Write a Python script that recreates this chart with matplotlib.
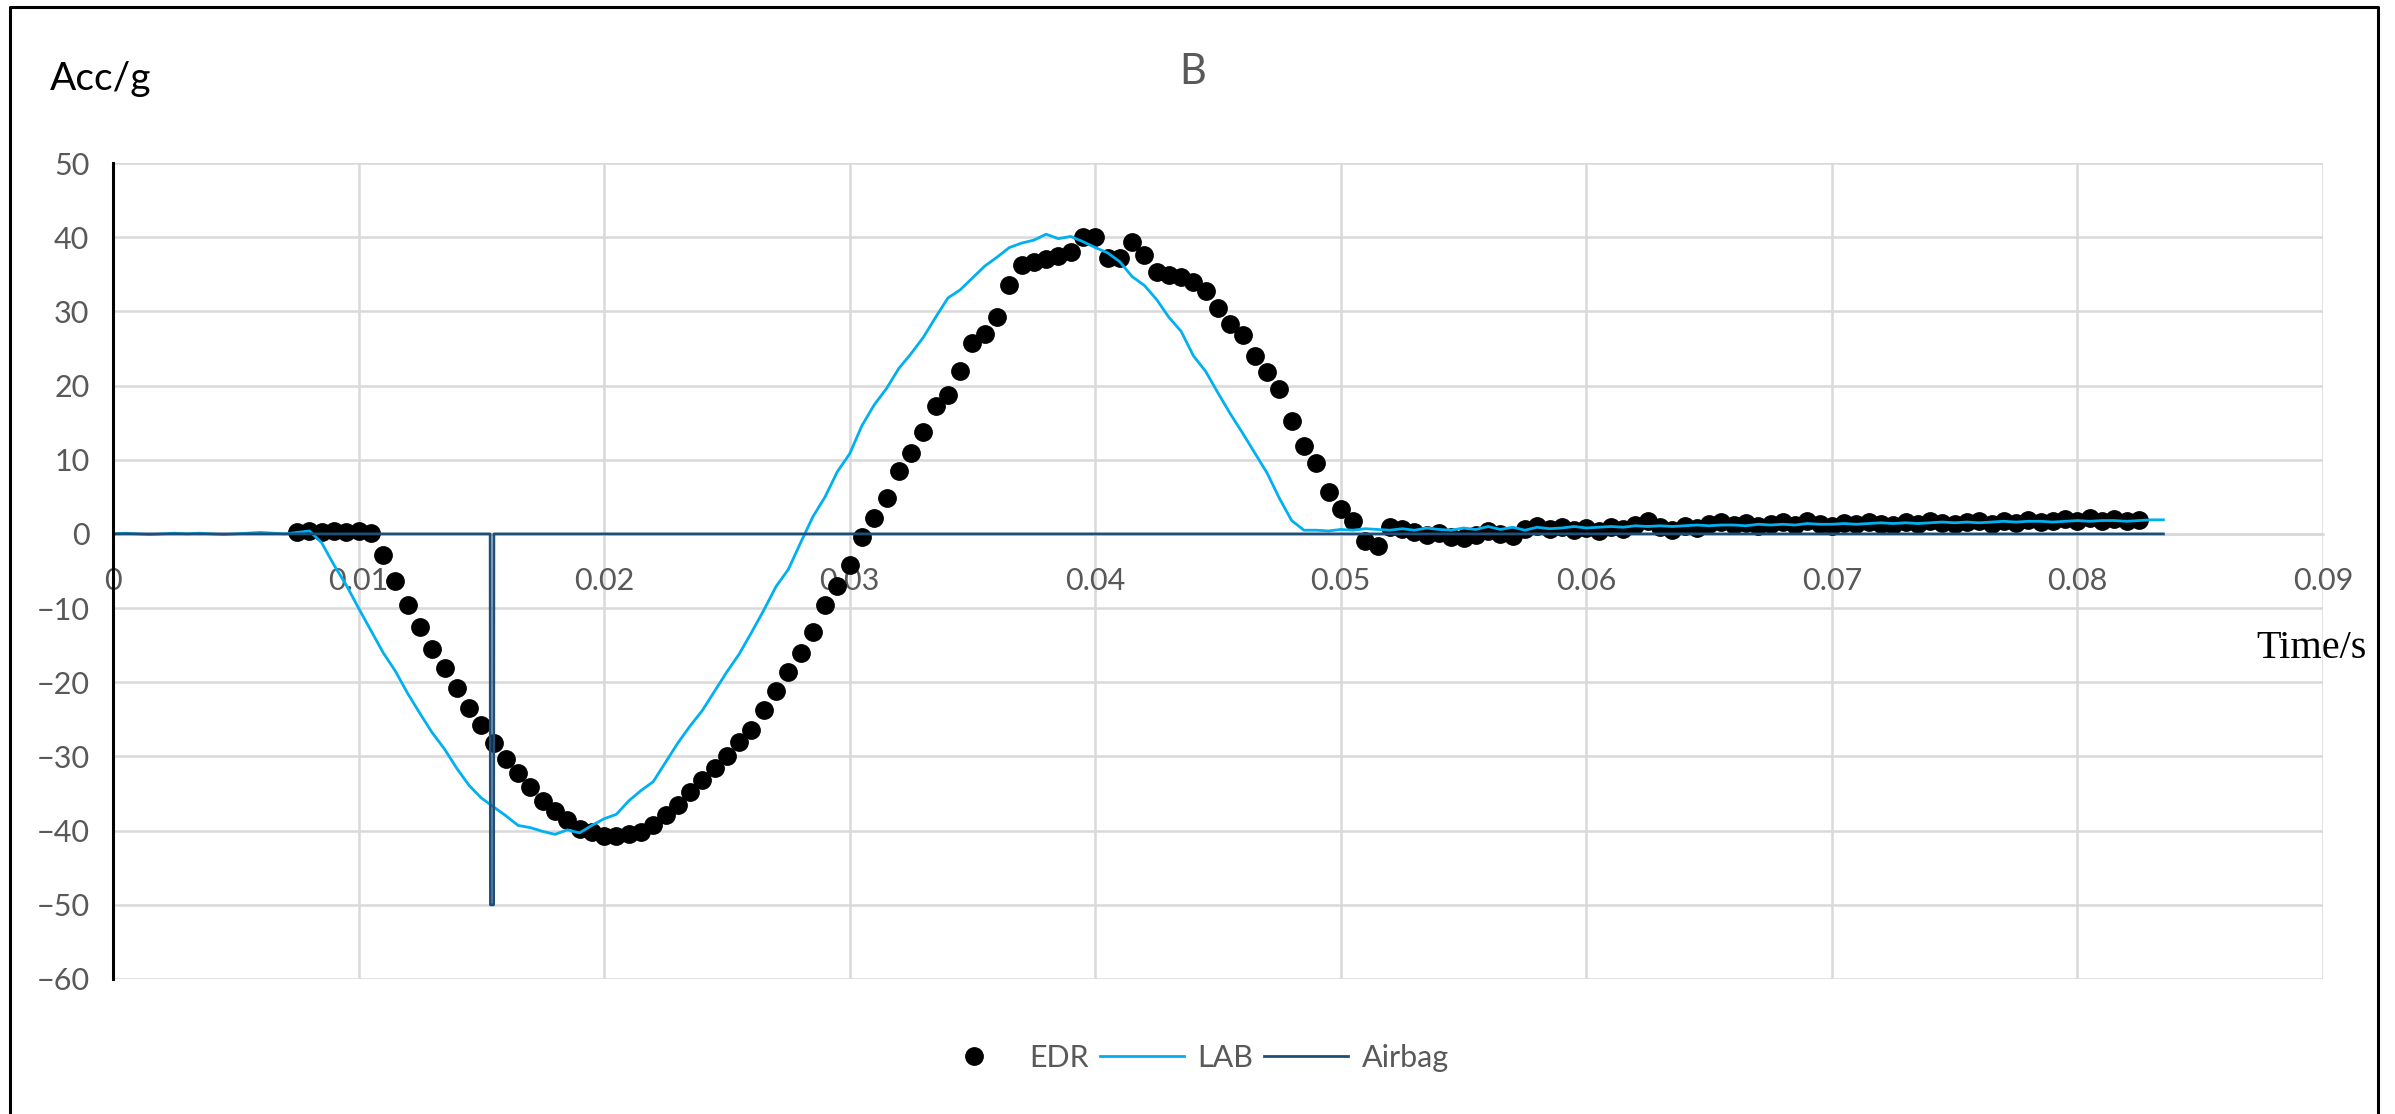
import numpy as np
import matplotlib
matplotlib.use("Agg")
import matplotlib.pyplot as plt
from matplotlib.lines import Line2D

# EDR samples every 0.5 ms starting at 7.5 ms
EDR_T0 = 0.0075
EDR_DT = 0.0005
edr_acc = [
    0.3, 0.4, 0.3, 0.4, 0.3, 0.4, 0.1,
    -2.9, -6.3, -9.6, -12.6, -15.5, -18.1, -20.8, -23.5, -25.8, -28.2,
    -30.3, -32.2, -34.1, -36.0, -37.4, -38.6, -39.8, -40.2, -40.7, -40.7,
    -40.5, -40.2, -39.3, -37.9, -36.5, -34.8, -33.2, -31.5, -29.9, -28.0,
    -26.4, -23.8, -21.2, -18.6, -16.0, -13.2, -9.6, -7.0, -4.2, -0.4,
    2.2, 4.9, 8.5, 10.9, 13.8, 17.2, 18.7, 21.9, 25.7, 27.0,
    29.3, 33.5, 36.2, 36.6, 37.0, 37.4, 38.0, 40.0, 40.0, 37.2,
    37.2, 39.4, 37.6, 35.3, 34.9, 34.6, 33.9, 32.8, 30.5, 28.3,
    26.8, 24.0, 21.8, 19.5, 15.2, 11.8, 9.5, 5.7, 3.4, 1.8,
    -0.9, -1.6, 0.9,
    0.6, 0.3, -0.2, 0.1, -0.4, -0.6, -0.2, 0.4, 0.0, -0.3,
    0.6, 1.0, 0.7, 0.9, 0.5, 0.8, 0.4, 0.9, 0.7, 1.2,
    1.7, 0.9, 0.5, 1.1, 0.8, 1.4, 1.6, 1.2, 1.5, 1.0,
    1.3, 1.6, 1.2, 1.7, 1.4, 1.1, 1.5, 1.3, 1.6, 1.4,
    1.2, 1.6, 1.3, 1.7, 1.5, 1.3, 1.6, 1.8, 1.4, 1.7,
    1.5, 1.9, 1.6, 1.8, 2.0, 1.7, 2.1, 1.8, 2.0, 1.7,
    1.9,
]

# LAB sensor, 0.5 ms steps from 0
LAB_DT = 0.0005
lab_acc = [
    0.0, 0.1, 0.0, -0.1, 0.0, 0.1, 0.0, 0.1, 0.0, -0.1,
    0.0, 0.1, 0.2, 0.1, 0.0, 0.2, 0.4, -1.2, -4.2, -6.9,
    -10.0, -13.0, -16.0, -18.5, -21.5, -24.2, -26.8, -29.0, -31.6, -33.9,
    -35.6, -36.8, -38.0, -39.3, -39.6, -40.1, -40.5, -39.9, -40.3, -39.3,
    -38.4, -37.8, -36.0, -34.6, -33.4, -30.8, -28.2, -25.9, -23.8, -21.2,
    -18.6, -16.2, -13.3, -10.3, -7.1, -4.8, -1.2, 2.3, 5.0, 8.4,
    10.8, 14.6, 17.4, 19.6, 22.3, 24.3, 26.5, 29.2, 31.8, 32.9,
    34.5, 36.1, 37.3, 38.6, 39.2, 39.6, 40.4, 39.8, 40.1, 39.4,
    38.6, 37.9, 36.7, 34.7, 33.5, 31.6, 29.2, 27.3, 24.0, 21.9,
    19.0, 16.2, 13.6, 10.9, 8.2, 4.8, 1.8, 0.5, 0.5, 0.4,
    0.6, 0.5, 0.7, 0.6, 0.5, 0.7, 0.5, 0.8, 0.6, 0.5,
    0.8, 0.6, 1.0, 0.6, 0.9, 0.5, 0.9, 0.7, 0.8, 1.0,
    0.8, 0.9, 1.0, 0.9, 1.1, 1.0, 1.1, 1.0, 1.1, 1.2,
    1.1, 1.2, 1.2, 1.1, 1.3, 1.2, 1.3, 1.2, 1.4, 1.3,
    1.3, 1.4, 1.3, 1.4, 1.5, 1.4, 1.5, 1.4, 1.5, 1.6,
    1.5, 1.6, 1.5, 1.6, 1.7, 1.6, 1.7, 1.7, 1.6, 1.7,
    1.8, 1.7, 1.8, 1.8, 1.7, 1.8, 1.9, 1.9,
]

# airbag trigger signal
airbag_t = [0.0, 0.01536, 0.01537, 0.0155, 0.01551, 0.0835]
airbag_acc = [0, 0, -50, -50, 0, 0]

x_ticks = [0, 0.01, 0.02, 0.03, 0.04, 0.05, 0.06, 0.07, 0.08, 0.09]
x_tick_labels = ["0", "0.01", "0.02", "0.03", "0.04", "0.05", "0.06", "0.07", "0.08", "0.09"]
y_ticks = [-60, -50, -40, -30, -20, -10, 0, 10, 20, 30, 40, 50]

edr_t = EDR_T0 + EDR_DT * np.arange(len(edr_acc))
lab_t = LAB_DT * np.arange(len(lab_acc))

plt.rcParams["font.family"] = ["Lato", "DejaVu Sans"]

W, H = 2395, 1114
fig = plt.figure(figsize=(W / 100, H / 100), dpi=100)
ax = fig.add_axes([113 / W, 1 - 979 / H, (2323 - 113) / W, (979 - 163) / H])

grey = "#595959"
grid_c = "#D9D9D9"

ax.plot(edr_t, edr_acc, "o", color="black", markersize=12.5, label="EDR", zorder=3)
ax.plot(lab_t, lab_acc, color="#00B0F0", lw=2.0, label="LAB", zorder=4)
ax.plot(airbag_t, airbag_acc, color="#1F4E79", lw=2.0, label="Airbag", zorder=5)

ax.set_xlim(0, 0.09)
ax.set_ylim(-60, 50)
ax.set_xticks(x_ticks)
ax.set_xticklabels(x_tick_labels)
ax.set_yticks(y_ticks)
ax.grid(True, color=grid_c, lw=1.8, zorder=0)
ax.set_axisbelow(True)

ax.spines["top"].set_visible(False)
ax.spines["right"].set_visible(False)
ax.spines["left"].set_color("black")
ax.spines["left"].set_linewidth(2.2)
ax.spines["left"].set_zorder(6)
ax.spines["bottom"].set_position(("data", 0))
ax.spines["bottom"].set_color(grid_c)
ax.spines["bottom"].set_linewidth(1.8)

ax.tick_params(axis="both", length=0, labelsize=22, labelcolor=grey)
ax.tick_params(axis="x", pad=24)
ax.tick_params(axis="y", pad=17)

fig.text(50 / W, 1 - 79 / H, "Acc/g", fontsize=28, color="black", ha="left", va="center")
fig.text(1193 / W, 1 - 72 / H, "B", fontsize=30, color=grey, ha="center", va="center")
fig.text(2367 / W, 1 - 648 / H, "Time/s", fontsize=29, color="black",
         family=["Liberation Serif", "DejaVu Serif"], ha="right", va="center")

leg = fig.legend(loc="center", bbox_to_anchor=(0.497, 1 - 1058 / H), ncol=3, frameon=False,
                 fontsize=22, handlelength=2.75, handletextpad=0.45, columnspacing=0.35,
                 labelcolor=grey)

# outer chart border (bottom edge falls outside the image)
bx0, bx1, by1 = 10 / W, 2378 / W, 1 - 7 / H
fig.add_artist(Line2D([bx0, bx0, bx1, bx1], [0, by1, by1, 0], color="black", lw=2.2,
                      transform=fig.transFigure))

fig.savefig("out.png", dpi=100)
